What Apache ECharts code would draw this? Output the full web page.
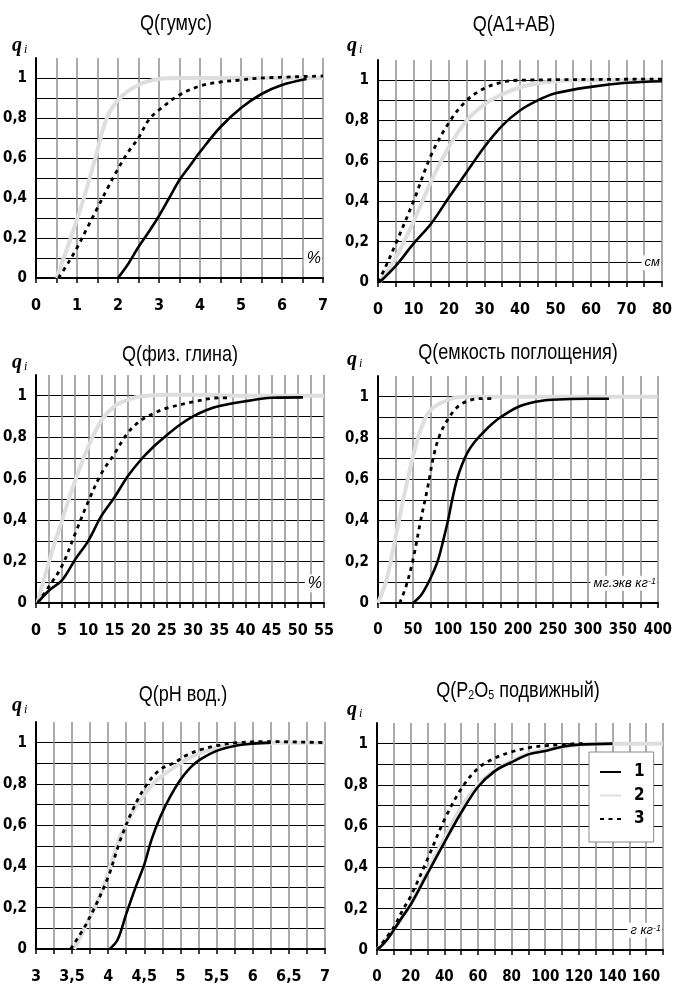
<!DOCTYPE html>
<html>
<head>
<meta charset="utf-8">
<script src="https://cdn.jsdelivr.net/npm/echarts@6/dist/echarts.min.js"></script>
<style>
  html, body { margin: 0; background: #fff; }
  #chart { width: 675px; height: 992px; }
</style>
</head>
<body>
<div id="chart"></div>
<script>
// --- data: [x, q] pairs, series 1 / 2 / 3 ---
const humus1 = [[2,0],[2.25,0.07],[2.5,0.155],[2.75,0.23],[3,0.31],[3.25,0.4],[3.5,0.49],[3.75,0.56],[4,0.63],[4.5,0.755],[5,0.85],[5.5,0.92],[6,0.965],[6.6,0.995]]
const humus2 = [[0.5,0],[0.85,0.2],[1.17,0.4],[1.45,0.6],[1.73,0.8],[2.05,0.9],[2.5,0.965],[3,0.995],[3.5,1],[7,1]]
const humus3 = [[0.55,0],[0.8,0.08],[1,0.15],[1.25,0.25],[1.5,0.35],[1.75,0.45],[2,0.545],[2.25,0.63],[2.5,0.7],[2.75,0.79],[3,0.84],[3.5,0.915],[4,0.96],[4.5,0.98],[5,0.99],[5.5,1],[7,1.01]]

const horizon1 = [[0.5,0],[5,0.08],[10,0.19],[15,0.29],[20,0.42],[25,0.545],[30,0.67],[35,0.775],[40,0.85],[45,0.9],[50,0.935],[60,0.967],[70,0.987],[80,0.995]]
const horizon2 = [[0.5,0],[5,0.12],[10,0.3],[15,0.5],[20,0.67],[25,0.8],[30,0.88],[35,0.93],[40,0.965],[45,0.985],[50,0.995],[55,1],[80,1]]
const horizon3 = [[0,0],[2,0.07],[5,0.19],[10,0.4],[15,0.63],[20,0.79],[25,0.9],[30,0.96],[35,0.99],[40,1],[80,1.005]]

const clay1 = [[0.3,0],[2.5,0.06],[5,0.11],[7.5,0.21],[10,0.3],[12.5,0.42],[15,0.51],[17.5,0.61],[20,0.69],[22.5,0.755],[25,0.81],[27.5,0.86],[30,0.9],[32.5,0.93],[35,0.95],[40,0.973],[45,0.99],[51,0.992]]
const clay2 = [[0.3,0],[2.5,0.2],[5,0.4],[7.5,0.59],[10,0.755],[12.5,0.88],[15,0.95],[17.5,0.98],[20,0.997],[25,1.005],[30,1.005],[40,1],[55,1]]
const clay3 = [[0.3,0],[2.5,0.08],[5,0.18],[7.5,0.335],[10,0.49],[12.5,0.625],[15,0.72],[17.5,0.82],[20,0.88],[22.5,0.915],[25,0.94],[30,0.97],[35,0.99],[37,0.99]]

const capacity1 = [[50,0],[62,0.04],[75,0.12],[85,0.2],[93,0.3],[100,0.4],[106,0.5],[113,0.6],[120,0.67],[128,0.73],[138,0.78],[150,0.825],[162,0.865],[175,0.9],[200,0.95],[225,0.975],[250,0.985],[300,0.99],[330,0.99]]
const capacity2 = [[0,0],[12,0.11],[24,0.3],[36,0.5],[50,0.71],[61,0.84],[75,0.935],[100,0.985],[122,1],[400,1]]
const capacity3 = [[31,0],[40,0.08],[50,0.21],[61,0.4],[71,0.56],[80,0.72],[89,0.82],[100,0.89],[112,0.945],[126,0.976],[145,0.99],[165,0.99]]

const ph1 = [[4.02,0],[4.13,0.045],[4.25,0.17],[4.38,0.3],[4.5,0.41],[4.6,0.53],[4.72,0.64],[4.86,0.74],[5,0.82],[5.14,0.88],[5.28,0.92],[5.5,0.96],[5.75,0.984],[6,0.995],[6.25,1]]
const ph2 = [[3.53,0],[3.71,0.126],[3.9,0.27],[4.03,0.4],[4.17,0.547],[4.36,0.676],[4.52,0.757],[4.68,0.82],[4.91,0.88],[5.09,0.92],[5.28,0.95],[5.5,0.975],[5.78,0.99],[6,0.997],[6.25,1],[7,1]]
const ph3 = [[3.48,0],[3.71,0.13],[3.99,0.34],[4.17,0.53],[4.36,0.69],[4.54,0.8],[4.72,0.87],[4.9,0.9],[5.09,0.94],[5.28,0.966],[5.5,0.985],[5.78,1],[6.2,1.005],[7,1]]

const phos1 = [[0,0],[5,0.04],[10,0.097],[15,0.16],[20,0.22],[30,0.37],[40,0.52],[50,0.665],[60,0.79],[70,0.867],[80,0.91],[90,0.948],[100,0.964],[110,0.985],[120,0.995],[140,1]]
const phos2 = [[0,0],[10,0.1],[20,0.22],[30,0.38],[40,0.54],[50,0.69],[60,0.8],[70,0.87],[80,0.915],[90,0.95],[100,0.97],[110,0.985],[120,0.995],[130,1],[170,1]]
const phos3 = [[0,0],[10,0.11],[15,0.19],[20,0.26],[30,0.44],[40,0.63],[50,0.78],[60,0.88],[70,0.93],[80,0.96],[90,0.98],[100,0.99],[110,0.995],[120,1],[125,1]]

const titles = ['Q(гумус)', 'Q(A1+AB)', 'Q(физ. глина)', 'Q(емкость поглощения)', 'Q(pH вод.)', 'Q(P{sub|2}O{sub|5} подвижный)']
const units = ['%', 'см', '%', 'мг.экв кг{sup|-1}', '', 'г кг{sup|-1}']
const xMins = [0, 0, 0, 0, 3, 0]
const xMaxs = [7, 80, 55, 400, 7, 170]
const xSteps = [0.5, 5, 2.5, 25, 0.25, 10]
const seriesNames = ['1', '2', '3']

const panelData = [
  [humus1, humus2, humus3],
  [horizon1, horizon2, horizon3],
  [clay1, clay2, clay3],
  [capacity1, capacity2, capacity3],
  [ph1, ph2, ph3],
  [phos1, phos2, phos3]
]

// --- layout ---
const grids = [
  { left: 33, top: 58, width: 290, height: 220 },
  { left: 378, top: 60, width: 285, height: 222 },
  { left: 33, top: 375, width: 291, height: 228 },
  { left: 378, top: 376, width: 286, height: 227 },
  { left: 35, top: 722, width: 290, height: 227 },
  { left: 377, top: 723, width: 286, height: 227 }
]
const titlePos = [[176, 24], [514, 25], [180, 355], [518, 353], [183, 695], [518, 691]]
const qPos = [[12, 46], [347, 46], [12, 363], [347, 360], [12, 706], [347, 710]]
const xLabelSize = [16, 16, 16, 15, 16, 15]

const cond = "'DejaVu Sans Condensed', 'DejaVu Sans', sans-serif"
const sans = "'Liberation Sans', Arial, sans-serif"
const fmt = v => String(+v.toFixed(4)).replace('.', ',')

const lineStyles = [
  { color: '#000', width: 2.6 },
  { color: '#dedede', width: 4 },
  { color: '#000', width: 2.8, type: [4, 4.5] }
]
const zOrder = [3, 2, 4]

const chart = echarts.init(document.getElementById('chart'))

const xAxis = grids.map((g, i) => ({
  gridIndex: i,
  type: 'value',
  min: xMins[i],
  max: xMaxs[i],
  interval: xSteps[i],
  axisLine: { onZero: false, lineStyle: { color: '#000', width: 2 } },
  axisTick: { show: true, length: 5, lineStyle: { color: '#000', width: 1.5 } },
  axisLabel: {
    color: '#000',
    fontFamily: cond,
    fontWeight: 'bold',
    fontSize: xLabelSize[i],
    margin: 20,
    showMinLabel: true,
    showMaxLabel: true,
    formatter: v => Math.round((v - xMins[i]) / xSteps[i]) % 2 === 0 ? fmt(v) : ''
  },
  splitLine: { show: true, lineStyle: { color: '#8f8f8f', width: 1.5 } }
}))

const yAxis = grids.map((g, i) => ({
  gridIndex: i,
  type: 'value',
  min: 0,
  max: 1.1,
  interval: 0.1,
  axisLine: { show: true, lineStyle: { color: '#000', width: 2 } },
  axisTick: { show: false },
  axisLabel: {
    color: '#000',
    fontFamily: cond,
    fontWeight: 'bold',
    fontSize: 15,
    margin: 9,
    formatter: v => {
      const k = Math.round(v * 10)
      return k % 2 === 0 && k <= 10 ? fmt(k / 10) : ''
    }
  },
  splitLine: { show: true, showMaxLine: false, lineStyle: { color: '#000', width: 1 } }
}))

const series = []
panelData.forEach((sets, i) => {
  sets.forEach((data, k) => {
    series.push({
      name: seriesNames[k],
      type: 'line',
      xAxisIndex: i,
      yAxisIndex: i,
      data: data,
      smooth: 0.35,
      symbol: 'none',
      z: zOrder[k],
      lineStyle: lineStyles[k],
      itemStyle: { color: lineStyles[k].color }
    })
  })
})

chart.setOption({
  animation: false,
  backgroundColor: '#fff',
  grid: grids,
  xAxis: xAxis,
  yAxis: yAxis,
  legend: {
    data: seriesNames,
    orient: 'vertical',
    left: 589,
    top: 752,
    padding: [11, 9, 14, 10],
    itemGap: 5.5,
    itemWidth: 21,
    itemHeight: 14,
    backgroundColor: '#fff',
    borderColor: '#888',
    borderWidth: 1,
    borderRadius: 0,
    itemStyle: { color: 'transparent', borderWidth: 0 },
    textStyle: { color: '#000', fontFamily: cond, fontWeight: 'bold', fontSize: 17, lineHeight: 18, padding: [0, 0, 0, 8] }
  },
  series: series
})

// titles, q_i labels and unit labels
const graphic = []
titles.forEach((t, i) => {
  graphic.push({
    type: 'text',
    x: titlePos[i][0],
    y: titlePos[i][1],
    scaleX: 0.82,
    style: {
      text: t,
      align: 'center',
      verticalAlign: 'middle',
      fill: '#000',
      fontFamily: sans,
      fontSize: 22,
      rich: {
        sub: { fontFamily: sans, fontSize: 13, verticalAlign: 'bottom', fill: '#000' }
      }
    }
  })
  graphic.push({
    type: 'text',
    x: qPos[i][0],
    y: qPos[i][1],
    style: {
      text: '{q|q}{i|i}',
      verticalAlign: 'middle',
      rich: {
        q: { fontFamily: "'Liberation Serif', serif", fontStyle: 'italic', fontWeight: 'bold', fontSize: 20, fill: '#000' },
        i: { fontFamily: "'Liberation Serif', serif", fontStyle: 'italic', fontSize: 12, verticalAlign: 'bottom', fill: '#000', padding: [0, 0, 0, 2] }
      }
    }
  })
  if (units[i]) {
    const p = chart.convertToPixel({ gridIndex: i }, [xMaxs[i], 0.1])
    graphic.push({
      type: 'text',
      x: p[0] - 1,
      y: p[1] + 1,
      z: 10,
      style: {
        text: units[i],
        align: 'right',
        verticalAlign: 'middle',
        fill: '#000',
        fontFamily: sans,
        fontStyle: 'italic',
        fontSize: units[i] === '%' ? 16 : 13,
        backgroundColor: '#fff',
        padding: [1, 1, 1, 3],
        rich: {
          sup: { fontFamily: sans, fontStyle: 'italic', fontSize: 9, verticalAlign: 'top', fill: '#000', backgroundColor: '#fff' }
        }
      }
    })
  }
})
chart.setOption({ graphic: graphic })
</script>
</body>
</html>
